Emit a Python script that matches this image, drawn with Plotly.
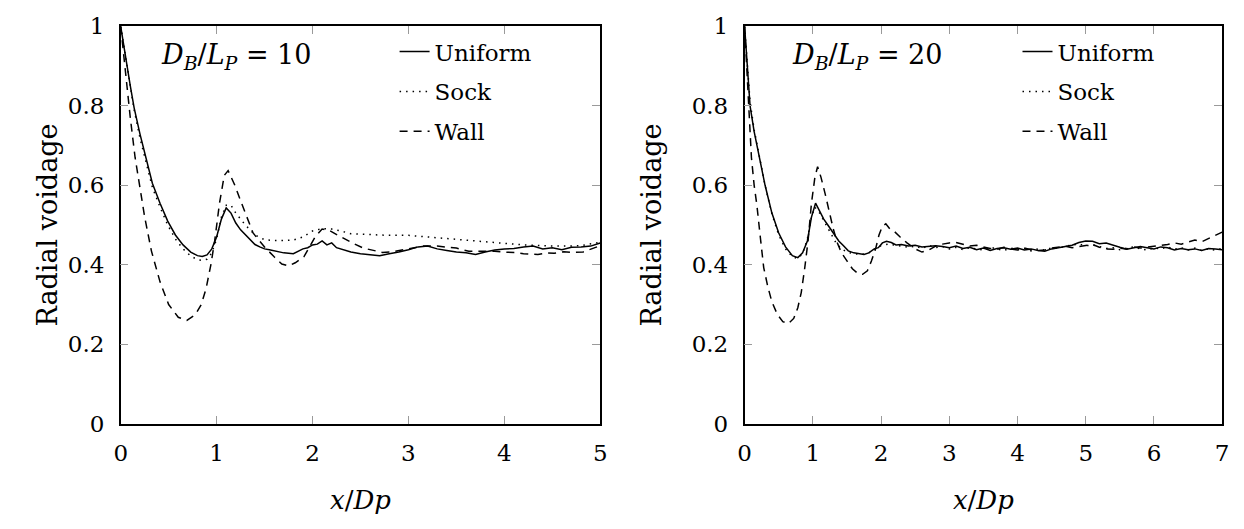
import plotly.graph_objects as go

# ---------------- data: D_B/L_P = 10 ----------------
uni10_x = [0, 0.03, 0.06, 0.1, 0.14, 0.2, 0.26, 0.33, 0.41, 0.49, 0.57, 0.65, 0.73, 0.8, 0.85, 0.9, 0.95, 1.0,
           1.05, 1.1, 1.15, 1.2, 1.25, 1.3, 1.35, 1.4, 1.45, 1.5, 1.55, 1.6, 1.7, 1.8, 1.9, 1.95, 2.0, 2.05,
           2.1, 2.15, 2.2, 2.25, 2.3, 2.4, 2.5, 2.6, 2.7, 2.8, 2.9, 3.0, 3.1, 3.2, 3.3, 3.4, 3.5, 3.6, 3.7,
           3.8, 3.9, 4.0, 4.1, 4.2, 4.3, 4.4, 4.5, 4.6, 4.7, 4.8, 4.9, 5.0]
uni10_y = [1.0, 0.96, 0.91, 0.85, 0.795, 0.73, 0.675, 0.605, 0.555, 0.51, 0.475, 0.45, 0.432, 0.423, 0.421,
           0.425, 0.44, 0.47, 0.515, 0.543, 0.53, 0.505, 0.488, 0.475, 0.462, 0.451, 0.445, 0.44, 0.438, 0.435,
           0.43, 0.428, 0.44, 0.443, 0.45, 0.452, 0.46, 0.45, 0.455, 0.443, 0.44, 0.432, 0.428, 0.425, 0.423,
           0.428, 0.432, 0.438, 0.445, 0.447, 0.44, 0.436, 0.432, 0.43, 0.426, 0.432, 0.437, 0.44, 0.441,
           0.445, 0.447, 0.44, 0.443, 0.438, 0.444, 0.445, 0.447, 0.455]

sock10_x = [0, 0.03, 0.06, 0.1, 0.14, 0.2, 0.26, 0.33, 0.41, 0.49, 0.57, 0.65, 0.73, 0.8, 0.85, 0.9, 0.95,
            1.0, 1.05, 1.1, 1.15, 1.2, 1.3, 1.4, 1.5, 1.6, 1.7, 1.8, 1.9, 2.0, 2.1, 2.2, 2.3, 2.4, 2.6, 2.8,
            3.0, 3.2, 3.4, 3.6, 3.8, 4.0, 4.2, 4.4, 4.6, 4.8, 4.9, 5.0]
sock10_y = [1.0, 0.955, 0.905, 0.845, 0.79, 0.72, 0.66, 0.595, 0.545, 0.5, 0.465, 0.44, 0.422, 0.413, 0.411,
            0.414, 0.43, 0.465, 0.52, 0.55, 0.55, 0.53, 0.5, 0.475, 0.463, 0.461, 0.461, 0.462, 0.47, 0.485,
            0.491, 0.49, 0.485, 0.478, 0.476, 0.474, 0.474, 0.47, 0.465, 0.461, 0.457, 0.453, 0.45, 0.448,
            0.447, 0.448, 0.452, 0.457]

wall10_x = [0, 0.03, 0.06, 0.1, 0.15, 0.2, 0.25, 0.32, 0.41, 0.5, 0.6, 0.69, 0.78, 0.84, 0.89, 0.94, 0.98,
            1.03, 1.08, 1.12, 1.19, 1.26, 1.32, 1.38, 1.43, 1.5, 1.6, 1.68, 1.75, 1.82, 1.91, 1.97, 2.03, 2.1,
            2.18, 2.26, 2.35, 2.44, 2.53, 2.63, 2.73, 2.84, 2.94, 3.05, 3.15, 3.3, 3.4, 3.5, 3.63, 3.75, 3.9,
            4.0, 4.11, 4.2, 4.35, 4.45, 4.52, 4.62, 4.72, 4.82, 4.93, 5.0]
wall10_y = [1.0, 0.93, 0.86, 0.77, 0.67, 0.59, 0.52, 0.435, 0.357, 0.3, 0.268, 0.26, 0.275, 0.3, 0.34, 0.4,
            0.46, 0.555, 0.625, 0.637, 0.6, 0.555, 0.515, 0.48, 0.465, 0.445, 0.42, 0.402, 0.397, 0.405,
            0.42, 0.445, 0.471, 0.49, 0.486, 0.475, 0.463, 0.452, 0.442, 0.436, 0.431, 0.433, 0.437, 0.443,
            0.447, 0.447, 0.445, 0.442, 0.434, 0.434, 0.434, 0.432, 0.431, 0.428, 0.426, 0.43, 0.429, 0.433,
            0.431, 0.432, 0.442, 0.448]

# ---------------- data: D_B/L_P = 20 ----------------
uni20_x = [0, 0.03, 0.08, 0.14, 0.21, 0.3, 0.4, 0.5, 0.6, 0.7, 0.78, 0.85, 0.92, 0.98, 1.04, 1.1, 1.16, 1.22,
           1.3, 1.38, 1.45, 1.52, 1.6, 1.68, 1.75, 1.82, 1.9, 1.96, 2.02, 2.08, 2.15, 2.22, 2.3,
           2.4, 2.5, 2.6, 2.7, 2.8, 2.9, 3.0, 3.1, 3.2, 3.3, 3.4, 3.5, 3.6, 3.7, 3.8, 3.9, 4.0, 4.1, 4.2,
           4.3, 4.4, 4.5, 4.6, 4.7, 4.8, 4.9, 5.0, 5.1, 5.2, 5.3, 5.4, 5.5, 5.6, 5.7, 5.8, 5.9, 6.0, 6.1,
           6.2, 6.3, 6.4, 6.5, 6.6, 6.7, 6.8, 6.9, 7.0]
uni20_y = [1.0, 0.92, 0.8, 0.735, 0.675, 0.6, 0.53, 0.48, 0.445, 0.423, 0.418, 0.43, 0.46, 0.52, 0.555, 0.535,
           0.515, 0.5, 0.48, 0.46, 0.448, 0.435, 0.43, 0.428, 0.426, 0.43, 0.44, 0.443, 0.455, 0.459, 0.456,
           0.45, 0.451,
           0.447, 0.449, 0.445, 0.446, 0.448, 0.446, 0.443, 0.447, 0.441, 0.444, 0.438, 0.442, 0.436, 0.441,
           0.443, 0.439, 0.442, 0.437, 0.44, 0.436, 0.434, 0.44, 0.443, 0.446, 0.449, 0.456, 0.46, 0.459,
           0.453, 0.455, 0.449, 0.444, 0.439, 0.443, 0.446, 0.443, 0.44, 0.445, 0.443, 0.437, 0.441, 0.438,
           0.44, 0.436, 0.441, 0.44, 0.438]

sock20_x = [0, 0.03, 0.08, 0.14, 0.21, 0.3, 0.4, 0.5, 0.6, 0.7, 0.78, 0.85, 0.92, 0.98, 1.03, 1.1, 1.18, 1.26,
            1.34, 1.42, 1.5, 1.6, 1.7, 1.8, 1.9, 2.0, 2.1, 2.2, 2.3,
            2.4, 2.5, 2.6, 2.7, 2.8, 2.9, 3.0, 3.1, 3.2, 3.3, 3.4, 3.5, 3.6, 3.7, 3.8, 3.9, 4.0, 4.1, 4.2,
            4.3, 4.4, 4.5, 4.6, 4.7, 4.8, 4.9, 5.0, 5.1, 5.2, 5.3, 5.4, 5.5, 5.6, 5.7, 5.8, 5.9, 6.0, 6.1,
            6.2, 6.3, 6.4, 6.5, 6.6, 6.7, 6.8, 6.9, 7.0]
sock20_y = [1.0, 0.93, 0.81, 0.74, 0.675, 0.6, 0.528, 0.475, 0.44, 0.42, 0.416, 0.428, 0.465, 0.52, 0.545,
            0.53, 0.505, 0.48, 0.455, 0.44, 0.432, 0.428, 0.426, 0.428, 0.437, 0.448, 0.452, 0.45, 0.447,
            0.444, 0.447, 0.441, 0.449, 0.443, 0.446, 0.44, 0.444, 0.438, 0.443, 0.44, 0.437, 0.444, 0.44,
            0.436, 0.442, 0.438, 0.441, 0.435, 0.44, 0.437, 0.443, 0.441, 0.447, 0.45, 0.452, 0.448, 0.45,
            0.446, 0.441, 0.443, 0.438, 0.442, 0.445, 0.44, 0.437, 0.443, 0.44, 0.445, 0.439, 0.443, 0.437,
            0.442, 0.436, 0.44, 0.437, 0.441]

wall20_x = [0, 0.03, 0.06, 0.1, 0.14, 0.18, 0.23, 0.28, 0.34, 0.4, 0.48, 0.56, 0.64, 0.72, 0.78, 0.83, 0.88,
            0.93, 0.98, 1.03, 1.07, 1.12, 1.18, 1.24, 1.3, 1.36, 1.42, 1.5, 1.58, 1.66, 1.73, 1.8, 1.86, 1.92,
            1.97, 2.02, 2.07, 2.13, 2.2, 2.28, 2.38, 2.5, 2.6, 2.7, 2.8, 2.9, 3.0, 3.1, 3.2, 3.3, 3.4, 3.5,
            3.6, 3.7, 3.8, 3.9, 4.0, 4.1, 4.2, 4.3, 4.4, 4.5, 4.6, 4.7, 4.8, 4.9, 5.0, 5.1, 5.2, 5.3, 5.4,
            5.5, 5.6, 5.7, 5.8, 5.9, 6.0, 6.1, 6.2, 6.3, 6.4, 6.5, 6.6, 6.7, 6.8, 6.9, 7.0]
wall20_y = [1.0, 0.9, 0.79, 0.67, 0.6, 0.55, 0.47, 0.393, 0.345, 0.307, 0.275, 0.257, 0.252, 0.265, 0.292,
            0.33, 0.39, 0.46, 0.555, 0.62, 0.647, 0.62, 0.579, 0.53, 0.49, 0.455, 0.43, 0.41, 0.39, 0.378,
            0.376, 0.385, 0.41, 0.44, 0.475, 0.497, 0.503, 0.49, 0.483, 0.47, 0.455, 0.44, 0.432, 0.437,
            0.447, 0.452, 0.455, 0.456, 0.452, 0.447, 0.449, 0.445, 0.441, 0.439, 0.444, 0.44, 0.437, 0.442,
            0.438, 0.436, 0.437, 0.442, 0.444, 0.447, 0.443, 0.446, 0.449, 0.451, 0.444, 0.44, 0.439, 0.442,
            0.44, 0.445, 0.442, 0.444, 0.446, 0.449, 0.451, 0.455, 0.452, 0.457, 0.462, 0.458, 0.466, 0.474,
            0.482]

y_ticks = [0, 0.2, 0.4, 0.6, 0.8, 1]
y_ticktext = ["0", "0.2", "0.4", "0.6", "0.8", "1"]
x_ticks_10 = [0, 1, 2, 3, 4, 5]
x_ticks_20 = [0, 1, 2, 3, 4, 5, 6, 7]
series_names = ["Uniform", "Sock", "Wall"]

FONT = "'DejaVu Serif', 'Liberation Serif', serif"
W, H = 1244, 529

styles = [dict(color="black", width=1.5, dash="solid"),
          dict(color="black", width=1.5, dash="1.5px,5px"),
          dict(color="black", width=1.5, dash="8px,6px")]

fig = go.Figure()
left = [(uni10_x, uni10_y), (sock10_x, sock10_y), (wall10_x, wall10_y)]
right = [(uni20_x, uni20_y), (sock20_x, sock20_y), (wall20_x, wall20_y)]
for (xs, ys), name, st in zip(left, series_names, styles):
    fig.add_trace(go.Scatter(x=xs, y=ys, mode="lines", name=name, line=st, legendgroup="L" + name,
                             xaxis="x", yaxis="y", legend="legend"))
for (xs, ys), name, st in zip(right, series_names, styles):
    fig.add_trace(go.Scatter(x=xs, y=ys, mode="lines", name=name, line=st, legendgroup="R" + name,
                             xaxis="x2", yaxis="y2", legend="legend2"))

def px_x(p):
    return p / W

def px_y(p):
    return 1 - p / H

common = dict(showline=True, linecolor="black", linewidth=1.5, mirror="ticks",
              ticks="inside", ticklen=8, tickcolor="#9a9a9a", tickwidth=1.2,
              showgrid=False, zeroline=False,
              tickfont=dict(family=FONT, size=23, color="black"))

xtitle = dict(text="<i>x</i>/<i>Dp</i>", font=dict(family=FONT, size=26, color="black"), standoff=26)
ytitle_l = dict(text="Radial voidage", font=dict(family=FONT, size=27, color="black"), standoff=2)
ytitle_r = dict(text="Radial voidage", font=dict(family=FONT, size=27, color="black"), standoff=22)
legfont = dict(family=FONT, size=23, color="black")

fig.update_layout(
    width=W, height=H, margin=dict(l=0, r=0, t=0, b=0),
    paper_bgcolor="white", plot_bgcolor="white",
    xaxis=dict(domain=[px_x(115), px_x(600)], range=[0, 5], tickvals=x_ticks_10,
               title=xtitle, anchor="y", ticklabelstandoff=8, **common),
    yaxis=dict(domain=[px_y(432), px_y(14)], range=[0, 1], tickvals=y_ticks, ticktext=y_ticktext,
               title=ytitle_l, anchor="x", ticklabelstandoff=10, **common),
    xaxis2=dict(domain=[px_x(746), px_x(1229)], range=[0, 7], tickvals=x_ticks_20,
                title=xtitle, anchor="y2", ticklabelstandoff=8, **common),
    yaxis2=dict(domain=[px_y(432), px_y(14)], range=[0, 1], tickvals=y_ticks, ticktext=y_ticktext,
                title=ytitle_r, anchor="x2", ticklabelstandoff=10, **common),
    legend=dict(x=px_x(392), y=px_y(18), xanchor="left", yanchor="top", font=legfont,
                bgcolor="rgba(255,255,255,0)", tracegroupgap=7, itemwidth=30),
    legend2=dict(x=px_x(1022), y=px_y(18), xanchor="left", yanchor="top", font=legfont,
                 bgcolor="rgba(255,255,255,0)", tracegroupgap=7, itemwidth=30),
    annotations=[
        dict(x=1.2, y=0.925, xref="x", yref="y", showarrow=False, xanchor="center", yanchor="middle",
             text="<i>D<sub>B</sub></i>/<i>L<sub>P</sub></i> = 10",
             font=dict(family=FONT, size=27, color="black")),
        dict(x=1.8, y=0.925, xref="x2", yref="y2", showarrow=False, xanchor="center", yanchor="middle",
             text="<i>D<sub>B</sub></i>/<i>L<sub>P</sub></i> = 20",
             font=dict(family=FONT, size=27, color="black")),
    ],
)

fig.write_html("out.html")
